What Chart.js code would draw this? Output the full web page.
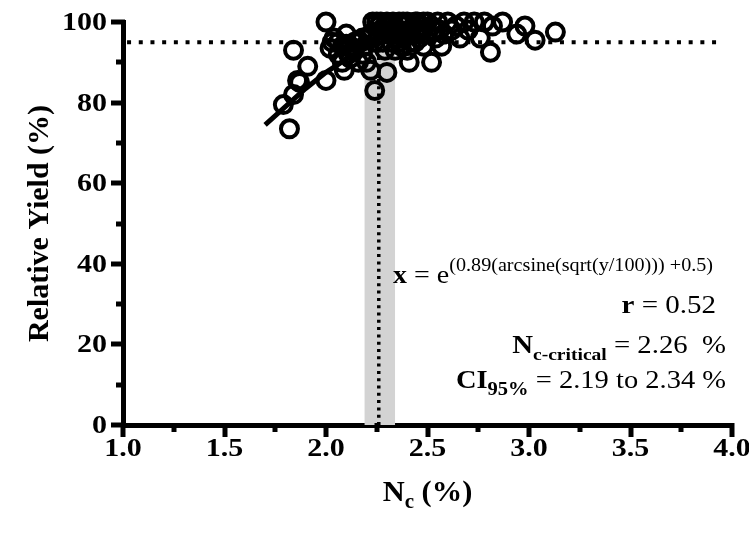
<!DOCTYPE html>
<html>
<head>
<meta charset="utf-8">
<script src="https://cdn.jsdelivr.net/npm/chart.js@4.4.0/dist/chart.umd.min.js"></script>
<style>
  html, body { margin: 0; padding: 0; background: #fff; }
  #chart { display: block; }
</style>
</head>
<body>
<canvas id="chart" width="749" height="533"></canvas>
<script>
// measured points: N concentration (%) vs relative yield (%)
const ncValues = [
  1.82, 1.79, 1.84, 1.87, 1.86, 1.91, 1.84, 2.00, 2.00, 2.03,
  2.04, 2.06, 2.09, 2.08, 2.11, 2.12, 2.14, 2.16, 2.18, 2.19,
  2.20, 2.21, 2.22, 2.24, 2.23, 2.25, 2.27, 2.29, 2.30, 2.31,
  2.32, 2.33, 2.34, 2.35, 2.36, 2.37, 2.38, 2.39, 2.40, 2.41,
  2.42, 2.43, 2.44, 2.45, 2.46, 2.47, 2.48, 2.50, 2.52, 2.53,
  2.55, 2.57, 2.58, 2.60, 2.62, 2.64, 2.66, 2.68, 2.70, 2.73,
  2.76, 2.78, 2.81, 2.82, 2.87, 2.94, 2.98, 3.03, 3.13, 2.26,
  2.28, 2.34, 2.40, 2.36, 2.29, 2.44, 2.10, 2.31, 2.38, 2.27,
  2.22, 2.24, 2.26, 2.28, 2.30, 2.32, 2.34, 2.36, 2.38, 2.40,
  2.42, 2.44, 2.46, 2.48, 2.50, 2.52, 2.54, 2.56, 2.06, 2.08,
  2.12, 2.14, 2.16, 2.18, 2.10, 2.02
];
const yieldValues = [
  73.5, 79.5, 82, 85, 85.5, 89, 93, 100, 85.5, 95,
  96, 92, 88, 90, 92, 94, 95, 95.5, 92, 94,
  90, 96, 88, 83, 100, 100, 100, 99, 87.5, 97,
  95, 100, 98, 96, 100, 94, 99, 97, 100, 90,
  95, 99, 97, 100, 96, 99, 94, 100, 90, 98,
  100, 94, 97, 100, 98, 99, 96, 100, 98, 100,
  96, 100, 92.5, 99, 100, 97, 99, 95.5, 97.5, 97,
  95, 93, 93, 98, 93, 100, 97, 99, 96, 98,
  97, 95, 99, 97, 100, 98, 96, 95, 100, 97,
  98, 95, 98, 100, 97, 99, 96, 98, 95, 94,
  91, 93, 90, 96, 94.5, 93.5
];

// fitted response curve
const fitX = [1.70, 1.80, 1.90, 2.00, 2.10, 2.20, 2.26];
const fitY = [74.5, 79, 83.5, 87.5, 90.8, 93.6, 95];

// critical concentration, its 95% CI and the 95% yield plateau
const nCritical = 2.26;
const ciBand = [2.19, 2.34];
const plateauY = 95;
const plateauX = [1.02, 3.95];

const xTicks = [1.0, 1.5, 2.0, 2.5, 3.0, 3.5, 4.0];
const yTicks = [0, 20, 40, 60, 80, 100];

const SERIF = '"Liberation Serif", "Times New Roman", serif';

const points = ncValues.map((x, i) => ({ x: x, y: yieldValues[i] }));
const fitLine = fitX.map((x, i) => ({ x: x, y: fitY[i] }));

// draws a run of text pieces (normal / bold / sub / sup), stretched by sx
function drawRuns(ctx, runs, x, y, align, sx) {
  sx = sx || 1;
  let total = 0;
  runs.forEach(r => { ctx.font = r.font; total += ctx.measureText(r.text).width; });
  let start = align === 'right' ? x - total * sx : (align === 'center' ? x - total * sx / 2 : x);
  ctx.save();
  ctx.translate(start, y);
  ctx.scale(sx, 1);
  ctx.textBaseline = 'alphabetic';
  ctx.textAlign = 'left';
  let cx = 0;
  runs.forEach(r => {
    ctx.font = r.font;
    ctx.fillText(r.text, cx, r.dy || 0);
    cx += ctx.measureText(r.text).width;
  });
  ctx.restore();
}

const decorPlugin = {
  id: 'decor',
  beforeDatasetsDraw(chart) {
    const { ctx, scales: { x, y } } = chart;
    ctx.save();
    ctx.fillStyle = '#d3d3d3';
    const l = x.getPixelForValue(ciBand[0]);
    const r = x.getPixelForValue(ciBand[1]);
    const t = y.getPixelForValue(100);
    const b = y.getPixelForValue(0);
    ctx.fillRect(l, t, r - l, b - t);
    ctx.restore();
  },
  afterDraw(chart) {
    const { ctx, scales: { x, y } } = chart;
    ctx.save();
    ctx.strokeStyle = '#000';
    ctx.fillStyle = '#000';
    ctx.lineCap = 'butt';
    ctx.lineWidth = 5;
    // x ticks: major each 0.5, minor between
    for (let v = 1.0; v <= 4.0001; v += 0.25) {
      const px = Math.round(x.getPixelForValue(v));
      const major = Math.abs(v * 2 - Math.round(v * 2)) < 1e-6;
      ctx.beginPath();
      ctx.moveTo(px, y.bottom - 2);
      ctx.lineTo(px, y.bottom + (major ? 12 : 7));
      ctx.stroke();
    }
    // y ticks: major each 20, minor between
    for (let v = 0; v <= 100; v += 10) {
      const py = Math.round(y.getPixelForValue(v));
      const major = v % 20 === 0;
      ctx.beginPath();
      ctx.moveTo(x.left + 2, py);
      ctx.lineTo(x.left - (major ? 12 : 7), py);
      ctx.stroke();
    }

    // tick labels
    const tickFont = 'bold 25px ' + SERIF;
    xTicks.forEach(v => {
      drawRuns(ctx, [{ text: v.toFixed(1), font: tickFont }], x.getPixelForValue(v), y.bottom + 31, 'center', 1.2);
    });
    yTicks.forEach(v => {
      drawRuns(ctx, [{ text: String(v), font: tickFont }], x.left - 16, y.getPixelForValue(v) + 8, 'right', 1.2);
    });

    // axis titles
    ctx.save();
    ctx.translate(40, (y.top + y.bottom) / 2);
    ctx.rotate(-Math.PI / 2);
    ctx.font = 'bold 30px ' + SERIF;
    ctx.textAlign = 'center';
    ctx.textBaseline = 'middle';
    ctx.fillText('Relative Yield (%)', 0, 0);
    ctx.restore();

    drawRuns(ctx, [
      { text: 'N', font: 'bold 29px ' + SERIF },
      { text: 'c', font: 'bold 20px ' + SERIF, dy: 7 },
      { text: ' (%)', font: 'bold 29px ' + SERIF }
    ], (x.left + x.right) / 2, 501, 'center', 1.05);

    // equation and statistics
    const big = '25px ' + SERIF;
    drawRuns(ctx, [
      { text: 'x', font: 'bold ' + big },
      { text: ' = e', font: big },
      { text: '(0.89(arcsine(sqrt(y/100))) +0.5)', font: '18px ' + SERIF, dy: -12 }
    ], 393, 283, 'left', 1.12);
    drawRuns(ctx, [
      { text: 'r', font: 'bold ' + big },
      { text: ' = 0.52', font: big }
    ], 716, 313, 'right', 1.16);
    drawRuns(ctx, [
      { text: 'N', font: 'bold ' + big },
      { text: 'c-critical', font: 'bold 17px ' + SERIF, dy: 7 },
      { text: ' = ' + nCritical.toFixed(2) + '  %', font: big }
    ], 726, 353, 'right', 1.15);
    drawRuns(ctx, [
      { text: 'CI', font: 'bold ' + big },
      { text: '95%', font: 'bold 18px ' + SERIF, dy: 7 },
      { text: ' = ' + ciBand[0].toFixed(2) + ' to ' + ciBand[1].toFixed(2) + ' %', font: big }
    ], 726, 388, 'right', 1.14);
    ctx.restore();
  }
};

new Chart(document.getElementById('chart'), {
  type: 'scatter',
  data: {
    datasets: [
      {
        label: 'observations',
        data: points,
        pointRadius: 8.5,
        pointHoverRadius: 8.5,
        pointBorderWidth: 4,
        pointBorderColor: '#000',
        pointBackgroundColor: 'rgba(0,0,0,0)',
        showLine: false,
        clip: false,
        order: 1
      },
      {
        label: 'fit',
        data: fitLine,
        showLine: true,
        borderColor: '#000',
        borderWidth: 5,
        pointRadius: 0,
        clip: false,
        order: 0
      },
      {
        label: 'plateau',
        data: plateauX.map(v => ({ x: v, y: plateauY })),
        showLine: true,
        borderColor: '#000',
        borderWidth: 4,
        borderDash: [4, 7.7],
        pointRadius: 0,
        clip: false,
        order: 3
      },
      {
        label: 'critical',
        data: [{ x: nCritical, y: 0 }, { x: nCritical, y: plateauY }],
        showLine: true,
        borderColor: '#000',
        borderWidth: 3.5,
        borderDash: [3, 4.3],
        pointRadius: 0,
        clip: false,
        order: 2
      }
    ]
  },
  options: {
    responsive: false,
    animation: false,
    events: [],
    layout: { padding: { top: 22, right: 17, left: 0, bottom: 0 } },
    plugins: { legend: { display: false }, tooltip: { enabled: false } },
    scales: {
      x: {
        type: 'linear',
        min: 1,
        max: 4,
        afterFit(scale) { scale.height = 533 - 425; },
        afterBuildTicks(scale) { scale.ticks = xTicks.map(v => ({ value: v })); },
        ticks: { display: false },
        grid: { display: false },
        border: { display: true, color: '#000', width: 5 }
      },
      y: {
        type: 'linear',
        min: 0,
        max: 100,
        afterFit(scale) { scale.width = 123; },
        afterBuildTicks(scale) { scale.ticks = yTicks.map(v => ({ value: v })); },
        ticks: { display: false },
        grid: { display: false },
        border: { display: true, color: '#000', width: 5 }
      }
    }
  },
  plugins: [decorPlugin]
});
</script>
</body>
</html>
